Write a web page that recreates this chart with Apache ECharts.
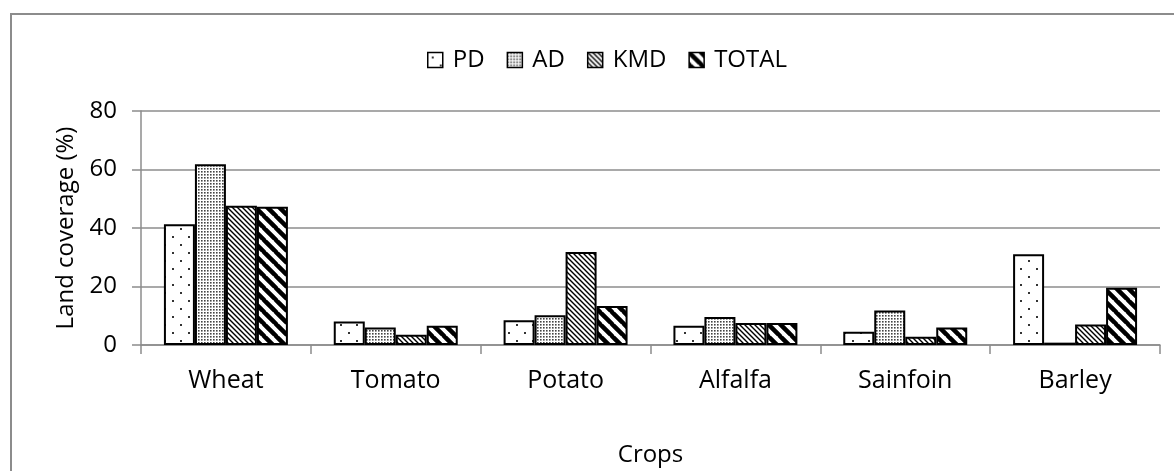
<!DOCTYPE html>
<html>
<head>
<meta charset="utf-8">
<script src="https://cdn.jsdelivr.net/npm/echarts@6/dist/echarts.min.js"></script>
<style>
html,body{margin:0;padding:0;background:#fff;}
#chart{width:1174px;height:471px;}
</style>
</head>
<body>
<div id="chart"></div>
<script>
const categories = ['Wheat', 'Tomato', 'Potato', 'Alfalfa', 'Sainfoin', 'Barley'];
const seriesNames = ['PD', 'AD', 'KMD', 'TOTAL'];
const pdValues = [41.3, 8, 8.5, 6.6, 4.5, 31];
const adValues = [61.8, 6, 10.2, 9.6, 11.8, 0.8];
const kmdValues = [47.6, 3.5, 31.8, 7.5, 2.8, 7];
const totalValues = [47.3, 6.6, 13.3, 7.5, 6, 19.6];
const yTicks = [0, 20, 40, 60, 80];

function tile(size, draw) {
  const c = document.createElement('canvas');
  c.width = size; c.height = size;
  const ctx = c.getContext('2d');
  ctx.fillStyle = '#fff';
  ctx.fillRect(0, 0, size, size);
  draw(ctx, size);
  return { image: c, repeat: 'repeat' };
}
function diag(lw) {
  return function (ctx, s) {
    ctx.strokeStyle = '#000';
    ctx.lineWidth = lw;
    ctx.beginPath();
    for (let k = -1; k <= 1; k++) {
      ctx.moveTo(k * s - 1, -1);
      ctx.lineTo(k * s + s + 1, s + 1);
    }
    ctx.stroke();
  };
}
const patterns = [
  tile(16, function (ctx) {
    ctx.fillStyle = '#333';
    ctx.fillRect(4, 4, 2, 2);
    ctx.fillRect(12, 12, 2, 2);
  }),
  tile(3, function (ctx) {
    ctx.fillStyle = '#444';
    ctx.fillRect(0, 0, 1.6, 1.6);
  }),
  tile(5, diag(1.4)),
  tile(12, diag(4.5))
];
const dataSets = [pdValues, adValues, kmdValues, totalValues];

const FONT = '"Open Sans", sans-serif';
const chart = echarts.init(document.getElementById('chart'), null, { renderer: 'canvas' });
chart.setOption({
  animation: false,
  backgroundColor: '#fff',
  graphic: [{
    type: 'rect',
    shape: { x: 11, y: 14, width: 1400, height: 700 },
    style: { fill: 'none', stroke: '#8c8c8c', lineWidth: 2 },
    silent: true
  }],
  legend: {
    top: 43,
    left: 422,
    itemWidth: 15,
    itemHeight: 15,
    itemGap: 22,
    icon: 'rect',
    itemStyle: { borderColor: '#000', borderWidth: 1.5 },
    textStyle: { fontFamily: FONT, fontSize: 24, color: '#000', padding: [0, 0, 0, 5] },
    data: seriesNames
  },
  grid: { left: 141, right: 14, top: 111, bottom: 126, containLabel: false },
  xAxis: {
    type: 'category',
    data: categories,
    name: 'Crops',
    nameLocation: 'middle',
    nameGap: 98,
    nameTextStyle: { fontFamily: FONT, fontSize: 24, color: '#000' },
    axisLine: { lineStyle: { color: '#8c8c8c', width: 1.5 } },
    axisTick: { show: true, length: 9, lineStyle: { color: '#8c8c8c', width: 1.5 } },
    axisLabel: { fontFamily: FONT, fontSize: 25, color: '#000', margin: 23 }
  },
  yAxis: {
    type: 'value',
    min: 0,
    max: 80,
    interval: 20,
    name: 'Land coverage (%)',
    nameLocation: 'middle',
    nameRotate: 90,
    nameGap: 62,
    nameTextStyle: { fontFamily: FONT, fontSize: 24, color: '#000' },
    axisLine: { show: true, lineStyle: { color: '#8c8c8c', width: 1.5 } },
    axisTick: { show: true, length: 9, lineStyle: { color: '#8c8c8c', width: 1.5 } },
    splitLine: { lineStyle: { color: '#8c8c8c', width: 1.5 } },
    axisLabel: {
      fontFamily: FONT, fontSize: 24, color: '#000', margin: 24,
      formatter: function (v) { return yTicks.indexOf(v) >= 0 ? String(v) : ''; }
    }
  },
  series: seriesNames.map(function (name, i) {
    return {
      name: name,
      type: 'bar',
      data: dataSets[i],
      barGap: '0%',
      barCategoryGap: '27%',
      itemStyle: { color: patterns[i], borderColor: '#000', borderWidth: 2 }
    };
  })
});
</script>
</body>
</html>
